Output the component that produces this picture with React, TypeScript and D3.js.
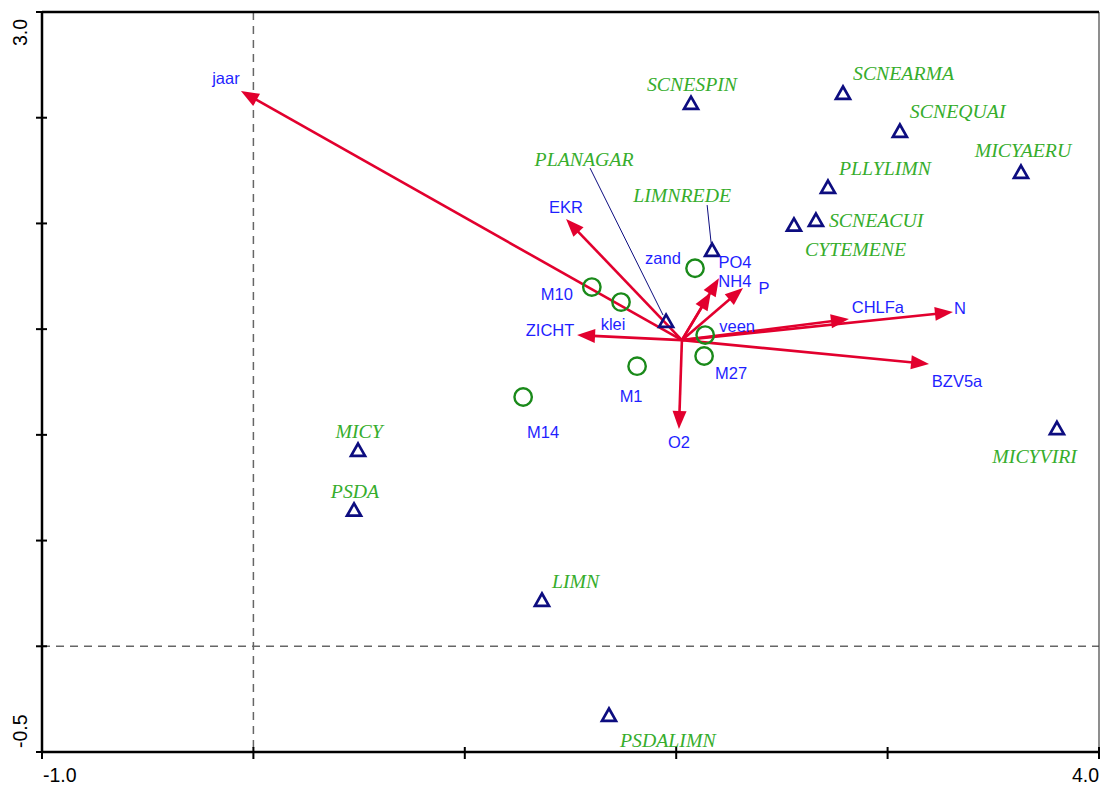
import React from "react";
import * as d3 from "d3";

// ---------- data ----------
const speciesNames = ["SCNESPIN", "SCNEARMA", "SCNEQUAI", "MICYAERU", "PLLYLIMN", "SCNEACUI", "CYTEMENE", "LIMNREDE", "PLANAGAR", "MICY", "PSDA", "LIMN", "PSDALIMN", "MICYVIRI"];
const speciesX = [2.07, 2.789, 3.058, 3.631, 2.718, 2.661, 2.557, 2.17, 1.952, 0.495, 0.476, 1.365, 1.682, 3.801];
const speciesY = [2.569, 2.617, 2.437, 2.243, 2.172, 2.016, 1.993, 1.874, 1.538, 0.928, 0.645, 0.219, -0.325, 1.031];

const arrowOrigin = [2.027, 1.448];
const envNames = ["jaar", "EKR", "ZICHT", "PO4", "NH4", "P", "CHLFa", "N", "BZV5a", "O2"];
const envX = [-0.059, 1.479, 1.531, 2.202, 2.164, 2.316, 2.817, 3.309, 3.196, 2.013];
const envY = [2.626, 2.021, 1.472, 1.741, 1.675, 1.695, 1.548, 1.581, 1.335, 1.028];

const nominalNames = ["zand", "M10", "klei", "veen", "M27", "M1", "M14"];
const nominalX = [2.089, 1.601, 1.739, 2.137, 2.132, 1.815, 1.276];
const nominalY = [1.788, 1.699, 1.628, 1.472, 1.373, 1.325, 1.179];

const xTickValues = [-1, 0, 1, 2, 3, 4];
const yTickValues = [-0.5, 0, 0.5, 1, 1.5, 2, 2.5, 3];
const xTickLabels = ["-1.0", "4.0"];
const yTickLabels = ["3.0", "-0.5"];

// ---------- layout (pixel offsets for labels) ----------
const speciesLabelPos: Record<string, [number, number, string]> = {
  SCNESPIN: [1, -19, "middle"],
  SCNEARMA: [10, -20, "start"],
  SCNEQUAI: [10, -20, "start"],
  MICYAERU: [2, -22, "middle"],
  PLLYLIMN: [11, -19, "start"],
  SCNEACUI: [13, 0, "start"],
  CYTEMENE: [11, 24, "start"],
  LIMNREDE: [-30, -55, "middle"],
  PLANAGAR: [-82, -162, "middle"],
  MICY: [1, -19, "middle"],
  PSDA: [1, -19, "middle"],
  LIMN: [10, -19, "start"],
  PSDALIMN: [11, 25, "start"],
  MICYVIRI: [20, 28, "end"],
};
const leaderLines: Record<string, [number, number, number, number]> = {
  LIMNREDE: [-5, -45, -1, -7],
  PLANAGAR: [-76, -153, -3, -6],
};
const envLabelPos: Record<string, [number, number]> = {
  jaar: [-15, -13], EKR: [0, -12], ZICHT: [-27, -5], PO4: [16, -16], NH4: [24, -11],
  P: [21, 0], CHLFa: [29, -12], N: [7, -4], BZV5a: [28, 17], O2: [0, 13],
  zand: [-32, -10], M10: [-35, 7], klei: [-8, 22], veen: [32, -9], M27: [27, 17], M1: [-6, 30], M14: [20, 35],
};

const W = 1105, H = 788;
const left = 42, right = 1099, top = 12, bottom = 752;
const RED = "#e2002e";
const BLUE = "#1f1fff";
const GREEN = "#36ad2c";
const NAVY = "#0d0d80";
const CIRC = "#1a8a1a";

export default function App() {
  const x = d3.scaleLinear().domain([-1, 4]).range([left, right]);
  const y = d3.scaleLinear().domain([-0.5, 3]).range([bottom, top]);
  const ox = x(arrowOrigin[0]);
  const oy = y(arrowOrigin[1]);
  const tri = "M0,-6.5 L7,5.8 L-7,5.8 Z";
  const headLen = 18, headW = 7;

  return (
    <svg width={W} height={H} style={{ position: "absolute", left: 0, top: 0, background: "#fff" }}>
      <rect x={0} y={0} width={W} height={H} fill="#fff" />
      {/* dashed zero lines */}
      <line x1={x(0)} x2={x(0)} y1={top} y2={bottom} stroke="#666" strokeWidth={1.5} strokeDasharray="8,6" />
      <line x1={left} x2={right} y1={y(0)} y2={y(0)} stroke="#666" strokeWidth={1.5} strokeDasharray="8,6" />
      {/* frame */}
      <line x1={right} x2={right} y1={top} y2={bottom} stroke="#444" strokeWidth={1.2} />
      <line x1={left} x2={right} y1={top} y2={top} stroke="#000" strokeWidth={2.5} />
      <line x1={left} x2={right} y1={bottom} y2={bottom} stroke="#000" strokeWidth={2.5} />
      <line x1={left} x2={left} y1={top} y2={bottom} stroke="#000" strokeWidth={2.5} />
      {xTickValues.map((v) => (
        <line key={"xt" + v} x1={x(v)} x2={x(v)} y1={bottom - 5} y2={bottom + 7} stroke="#000" strokeWidth={2} />
      ))}
      {yTickValues.map((v) => (
        <line key={"yt" + v} x1={left - 6} x2={left + 5} y1={y(v)} y2={y(v)} stroke="#000" strokeWidth={2} />
      ))}
      <g fontFamily="'Liberation Sans', Arial, sans-serif" fontSize={19.5} fill="#000">
        <text x={x(-1) + 1} y={bottom + 30} textAnchor="start">{xTickLabels[0]}</text>
        <text x={x(4)} y={bottom + 30} textAnchor="end">{xTickLabels[1]}</text>
        <text transform={`translate(${left - 15},${y(3) + 7}) rotate(-90)`} textAnchor="end">{yTickLabels[0]}</text>
        <text transform={`translate(${left - 15},${y(-0.5) - 4}) rotate(-90)`} textAnchor="start">{yTickLabels[1]}</text>
      </g>

      {/* arrows */}
      {envNames.map((n, i) => {
        const tx = x(envX[i]), ty = y(envY[i]);
        const ang = Math.atan2(ty - oy, tx - ox);
        const bx = tx - headLen * Math.cos(ang), by = ty - headLen * Math.sin(ang);
        const px = -Math.sin(ang), py = Math.cos(ang);
        const head = `M${tx},${ty} L${bx + headW * px},${by + headW * py} L${bx - headW * px},${by - headW * py} Z`;
        return (
          <g key={n}>
            <line x1={ox} y1={oy} x2={bx + 2 * Math.cos(ang)} y2={by + 2 * Math.sin(ang)} stroke={RED} strokeWidth={2.6} />
            <path d={head} fill={RED} />
          </g>
        );
      })}

      {/* nominal circles */}
      {nominalNames.map((n, i) => (
        <circle key={n} cx={x(nominalX[i])} cy={y(nominalY[i])} r={8.7} fill="none" stroke={CIRC} strokeWidth={2.4} />
      ))}

      {/* species */}
      {speciesNames.map((n, i) => {
        const px = x(speciesX[i]), py = y(speciesY[i]);
        const ll = leaderLines[n];
        return (
          <g key={n}>
            {ll && <line x1={px + ll[0]} y1={py + ll[1]} x2={px + ll[2]} y2={py + ll[3]} stroke={NAVY} strokeWidth={1} />}
            <path d={tri} transform={`translate(${px},${py})`} fill="none" stroke={NAVY} strokeWidth={2.7} />
          </g>
        );
      })}
      <g fontFamily="'Liberation Serif', 'Times New Roman', serif" fontStyle="italic" fontSize={19.8} fill={GREEN}>
        {speciesNames.map((n, i) => {
          const p = speciesLabelPos[n];
          return (
            <text key={n} x={x(speciesX[i]) + p[0]} y={y(speciesY[i]) + p[1]} textAnchor={p[2] as any} dominantBaseline="central">{n}</text>
          );
        })}
      </g>

      {/* env labels */}
      <g fontFamily="'Liberation Sans', Arial, sans-serif" fontSize={16.5} fill={BLUE} textAnchor="middle">
        {envNames.map((n, i) => {
          const p = envLabelPos[n];
          return <text key={n} x={x(envX[i]) + p[0]} y={y(envY[i]) + p[1]} dominantBaseline="central">{n}</text>;
        })}
        {nominalNames.map((n, i) => {
          const p = envLabelPos[n];
          return <text key={n} x={x(nominalX[i]) + p[0]} y={y(nominalY[i]) + p[1]} dominantBaseline="central">{n}</text>;
        })}
      </g>
    </svg>
  );
}
